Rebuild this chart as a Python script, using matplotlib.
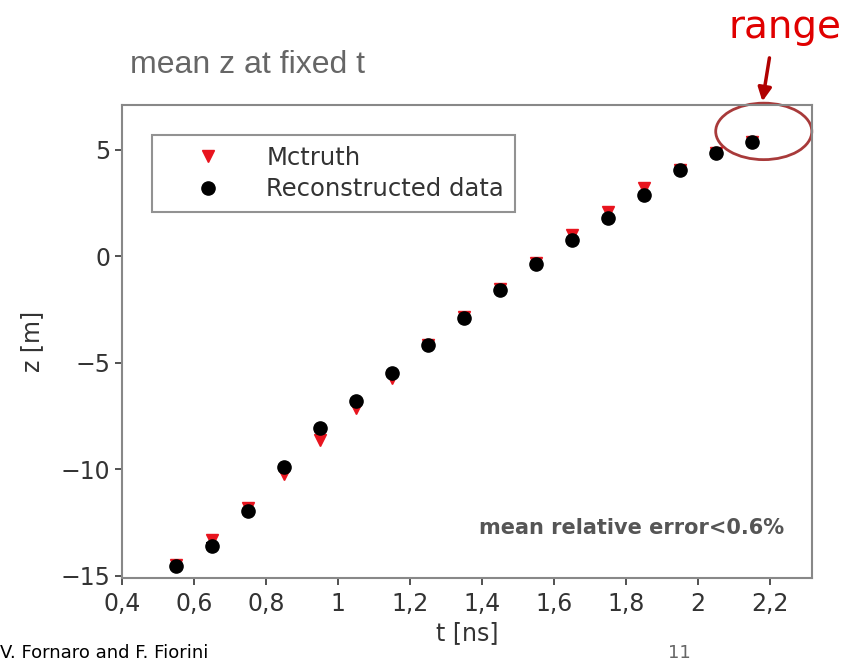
import matplotlib.pyplot as plt
from matplotlib.patches import Ellipse
from matplotlib.ticker import FuncFormatter

# time bins [ns]
t = [0.55, 0.65, 0.75, 0.85, 0.95, 1.05, 1.15, 1.25, 1.35,
     1.45, 1.55, 1.65, 1.75, 1.85, 1.95, 2.05, 2.15]
# Monte Carlo truth z [m]
z_mc = [-14.5, -13.3, -11.8, -10.2, -8.6, -7.1, -5.7, -4.18, -2.85,
        -1.55, -0.3, 1.0, 2.1, 3.2, 4.04, 4.84, 5.35]
# reconstructed z [m]
z_rec = [-14.55, -13.6, -11.97, -9.9, -8.07, -6.8, -5.49, -4.18, -2.91,
         -1.6, -0.38, 0.75, 1.78, 2.86, 4.04, 4.84, 5.35]
z_err = [0.12] * len(t)

grey = '#555555'
fig = plt.figure(figsize=(8.46, 6.64), dpi=100)
ax = fig.add_axes([0.1442, 0.1295, 0.8156, 0.7124])

ax.plot(t, z_mc, 'v', color='#e8141e', ms=8, label='Mctruth', zorder=3)
ax.errorbar(t, z_rec, yerr=z_err, fmt='none', ecolor='black', capsize=4,
            elinewidth=1.5, capthick=1.5, zorder=4)
ax.plot(t, z_rec, 'o', color='black', ms=9.5, label='Reconstructed data', zorder=5)

ax.set_xlim(0.4, 2.317)
ax.set_ylim(-15.1, 7.1)
ax.set_xticks([0.4, 0.6, 0.8, 1.0, 1.2, 1.4, 1.6, 1.8, 2.0, 2.2])
ax.set_yticks([-15, -10, -5, 0, 5])
ax.xaxis.set_major_formatter(FuncFormatter(lambda v, p: ('%g' % round(v, 2)).replace('.', ',')))
ax.yaxis.set_major_formatter(FuncFormatter(lambda v, p: ('%d' % v).replace('-', '\u2212')))
ax.tick_params(labelsize=17, colors='#333333', length=5, width=1.2, direction='out')
ax.tick_params(axis='x', pad=5)
for s in ax.spines.values():
    s.set_color('#888888')
    s.set_linewidth(1.5)

ax.set_xlabel('t [ns]', fontsize=17, color='#333333', labelpad=4)
ax.set_ylabel('z [m]', fontsize=17, color='#333333', labelpad=12)

leg = ax.legend(loc='upper left', bbox_to_anchor=(0.0435, 0.9366), borderaxespad=0,
                fontsize=17.5, frameon=True, fancybox=False, handletextpad=0.55,
                borderpad=0.45, labelspacing=0.3, handlelength=3.7)
leg.get_frame().set_edgecolor('#777777')
leg.get_frame().set_linewidth(1.5)
for txt in leg.get_texts():
    txt.set_color('#333333')

ax.text(0.96, 0.105, 'mean relative error<0.6%', transform=ax.transAxes,
        ha='right', va='center', fontsize=15, fontweight='bold', color=grey)

fig.text(0.154, 0.902, 'mean z at fixed t', fontsize=23, color='#666666',
         family='Liberation Sans', va='center')

# highlight of the last bin
ax.add_patch(Ellipse((2.183, 5.86), 0.267, 2.65, fill=False,
                     edgecolor='#a83a3a', lw=2, clip_on=False))
ax.annotate('', xy=(2.178, 7.14), xytext=(2.2, 9.44), xycoords='data',
            arrowprops=dict(arrowstyle='-|>', color='#b00000', lw=2.5,
                            mutation_scale=20), annotation_clip=False)
fig.text(0.928, 0.96, 'range', fontsize=28, color='#e00000', ha='center',
         va='center', family=['Liberation Sans Narrow', 'DejaVu Sans'])

# slide footer
fig.text(0.0, 0.003, 'V. Fornaro and F. Fiorini', fontsize=13, color='black',
         va='bottom')
fig.text(0.79, 0.003, '11', fontsize=13, color='#666666', va='bottom')

fig.savefig('out.png', dpi=100)
